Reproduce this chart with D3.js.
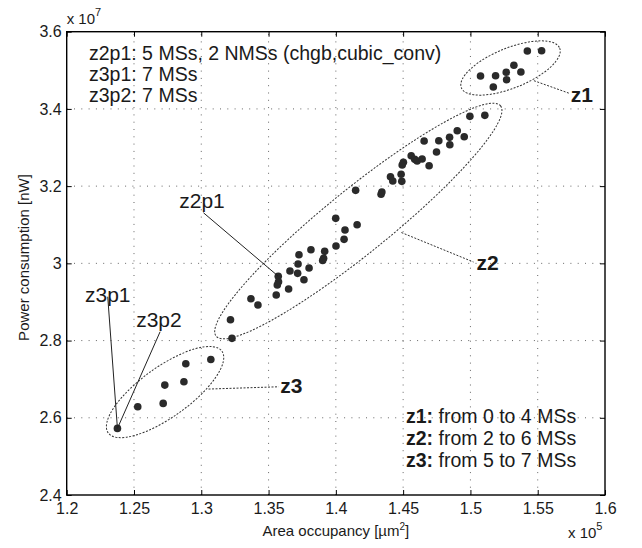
<!DOCTYPE html>
<html>
<head>
<meta charset="utf-8">
<script src="https://cdn.jsdelivr.net/npm/d3@7"></script>
<style>
  body { margin: 0; background: #fff; }
  text { font-family: "Liberation Sans", Arial, Helvetica, sans-serif; fill: #1a1a1a; }
</style>
</head>
<body>
<div id="chart"></div>
<script>
// area values are in units of 1e5 um^2, power in units of 1e7 nW
const z1Area  = [1.5529, 1.5423, 1.5323, 1.5266, 1.5375, 1.5269, 1.5075, 1.5187, 1.5170];
const z1Power = [3.5508, 3.5500, 3.5130, 3.4948, 3.4956, 3.4756, 3.4852, 3.4860, 3.4567];

const z2Area  = [1.5107, 1.4996, 1.4902, 1.4845, 1.4954, 1.4765, 1.4847, 1.4656, 1.4748, 1.4560,
                 1.4586, 1.4604, 1.4641, 1.4693, 1.4502, 1.4493, 1.4485, 1.4490, 1.4406, 1.4423,
                 1.4336, 1.4342, 1.4147, 1.3999, 1.4158, 1.4068, 1.4061, 1.4001, 1.3815, 1.3917,
                 1.3909, 1.3902, 1.3726, 1.3719, 1.3659, 1.3716, 1.3801, 1.3763, 1.3572, 1.3574,
                 1.3565, 1.3649, 1.3557, 1.3369, 1.3421, 1.3217, 1.3228];
const z2Power = [3.3834, 3.3808, 3.3435, 3.3264, 3.3280, 3.3176, 3.3073, 3.3168, 3.2883, 3.2788,
                 3.2694, 3.2650, 3.2702, 3.2528, 3.2617, 3.2547, 3.2306, 3.2124, 3.2244, 3.2132,
                 3.1788, 3.1847, 3.1891, 3.1166, 3.1000, 3.0863, 3.0622, 3.0448, 3.0352, 3.0311,
                 3.0130, 3.0073, 3.0223, 2.9982, 2.9801, 2.9741, 2.9878, 2.9575, 2.9666, 2.9523,
                 2.9438, 2.9334, 2.9179, 2.9083, 2.8920, 2.8539, 2.8057];

const z3Area  = [1.3071, 1.2885, 1.2871, 1.2729, 1.2717, 1.2528, 1.2377];
const z3Power = [2.7508, 2.7399, 2.6933, 2.6847, 2.6373, 2.6285, 2.5725];

const xTicks = [1.2, 1.25, 1.3, 1.35, 1.4, 1.45, 1.5, 1.55, 1.6];
const yTicks = [2.4, 2.6, 2.8, 3.0, 3.2, 3.4, 3.6];

const notes = ['z2p1: 5 MSs, 2 NMSs (chgb,cubic_conv)', 'z3p1: 7 MSs', 'z3p2: 7 MSs'];
const legendKeys = ['z1:', 'z2:', 'z3:'];
const legendText = [' from 0 to 4 MSs', ' from 2 to 6 MSs', ' from 5 to 7 MSs'];

document.addEventListener('DOMContentLoaded', () => drawChart());

function drawChart() {
  const width = 642;
  const height = 548;
  const margin = {top: 31.7, left: 66.7, right: 37, bottom: 53};

  const x = d3.scaleLinear().domain([1.2, 1.6]).range([margin.left, width - margin.right]);
  const y = d3.scaleLinear().domain([2.4, 3.6]).range([height - margin.bottom, margin.top]);

  const svg = d3.select('#chart').append('svg')
    .attr('width', width).attr('height', height);

  // dotted grid
  const grid = svg.append('g')
    .attr('stroke', '#666').attr('stroke-width', 1).attr('stroke-dasharray', '1,6.3');
  grid.selectAll('.vg').data(xTicks.slice(1, -1)).enter()
    .append('line').attr('class', 'vg')
    .attr('x1', d => x(d)).attr('x2', d => x(d))
    .attr('y1', y(2.4)).attr('y2', y(3.6));
  grid.selectAll('.hg').data(yTicks.slice(1, -1)).enter()
    .append('line').attr('class', 'hg')
    .attr('y1', d => y(d)).attr('y2', d => y(d))
    .attr('x1', x(1.2)).attr('x2', x(1.6));

  // axes, ticks point inwards like matlab
  const fmt = d => String(+d.toFixed(2));
  const xAxis = svg.append('g')
    .attr('transform', `translate(0,${y(2.4)})`)
    .call(d3.axisBottom(x).tickValues(xTicks).tickSizeInner(-5).tickSizeOuter(0).tickPadding(8).tickFormat(fmt));
  const yAxis = svg.append('g')
    .attr('transform', `translate(${x(1.2)},0)`)
    .call(d3.axisLeft(y).tickValues(yTicks).tickSizeInner(-5).tickSizeOuter(0).tickPadding(5).tickFormat(fmt));
  const topAxis = svg.append('g')
    .attr('transform', `translate(0,${y(3.6)})`)
    .call(d3.axisTop(x).tickValues(xTicks).tickSizeInner(-5).tickSizeOuter(0).tickFormat(''));
  const rightAxis = svg.append('g')
    .attr('transform', `translate(${x(1.6)},0)`)
    .call(d3.axisRight(y).tickValues(yTicks).tickSizeInner(-5).tickSizeOuter(0).tickFormat(''));
  [xAxis, yAxis, topAxis, rightAxis].forEach(g => {
    g.attr('font-size', 16).attr('font-family', null);
    g.select('.domain').remove();
    g.selectAll('line').attr('stroke', '#000');
  });

  svg.append('rect')
    .attr('x', x(1.2)).attr('y', y(3.6))
    .attr('width', x(1.6) - x(1.2)).attr('height', y(2.4) - y(3.6))
    .attr('fill', 'none').attr('stroke', '#000').attr('stroke-width', 1.4);

  // zone ellipses (centre in data units, radii in px)
  const ellipses = [
    {cx: 1.5298, cy: 3.506, rx: 53, ry: 20, angle: -22},
    {cx: 1.4167, cy: 3.1096, rx: 183, ry: 32, angle: -39},
    {cx: 1.2731, cy: 2.6666, rx: 70, ry: 25, angle: -35.7}
  ];
  svg.selectAll('.zone').data(ellipses).enter()
    .append('ellipse').attr('class', 'zone')
    .attr('transform', d => `translate(${x(d.cx)},${y(d.cy)}) rotate(${d.angle})`)
    .attr('rx', d => d.rx).attr('ry', d => d.ry)
    .attr('fill', 'none').attr('stroke', '#333').attr('stroke-width', 1)
    .attr('stroke-dasharray', '2,1.5');

  // zone labels with dotted leaders
  const zoneLabels = [
    {text: 'z1', x: 1.5745, y: 3.4179, from: [1.5472, 3.4731], to: [1.5739, 3.4399]},
    {text: 'z2', x: 1.5045, y: 2.9827, from: [1.4487, 3.0798], to: [1.5023, 3.0034]},
    {text: 'z3', x: 1.3587, y: 2.664, from: [1.3054, 2.6744], to: [1.3575, 2.6803]}
  ];
  svg.selectAll('.zleader').data(zoneLabels).enter()
    .append('line').attr('class', 'zleader')
    .attr('x1', d => x(d.from[0])).attr('y1', d => y(d.from[1]))
    .attr('x2', d => x(d.to[0])).attr('y2', d => y(d.to[1]))
    .attr('stroke', '#333').attr('stroke-dasharray', '2,1.5');
  svg.selectAll('.zlabel').data(zoneLabels).enter()
    .append('text').attr('class', 'zlabel')
    .attr('x', d => x(d.x)).attr('y', d => y(d.y))
    .attr('font-size', 21).attr('font-weight', 'bold')
    .text(d => d.text);

  // points
  const zones = [[z1Area, z1Power], [z2Area, z2Power], [z3Area, z3Power]];
  const points = zones.flatMap(z => z[0].map((a, i) => ({area: a, power: z[1][i]})));
  svg.selectAll('.dot').data(points).enter()
    .append('circle').attr('class', 'dot')
    .attr('cx', d => x(d.area)).attr('cy', d => y(d.power))
    .attr('r', 3.8).attr('fill', '#2a2a2a');

  // point labels
  const pointLabels = [
    {text: 'z2p1', x: 1.2836, y: 3.1433, from: [1.3016, 3.1311], to: [1.3572, 2.9666]},
    {text: 'z3p1', x: 1.2136, y: 2.9005, from: [1.2305, 2.9135], to: [1.2377, 2.5725]},
    {text: 'z3p2', x: 1.2516, y: 2.8358, from: [1.2694, 2.8228], to: [1.2377, 2.5725]}
  ];
  svg.selectAll('.pleader').data(pointLabels).enter()
    .append('line').attr('class', 'pleader')
    .attr('x1', d => x(d.from[0])).attr('y1', d => y(d.from[1]))
    .attr('x2', d => x(d.to[0])).attr('y2', d => y(d.to[1]))
    .attr('stroke', '#222').attr('stroke-width', 1);
  svg.selectAll('.plabel').data(pointLabels).enter()
    .append('text').attr('class', 'plabel')
    .attr('x', d => x(d.x)).attr('y', d => y(d.y))
    .attr('font-size', 21)
    .text(d => d.text);

  // notes top left
  svg.selectAll('.note').data(notes).enter()
    .append('text').attr('class', 'note')
    .attr('x', 89).attr('y', (d, i) => 59.5 + i * 21)
    .attr('font-size', 19.5)
    .text(d => d);

  // legend bottom right
  const leg = svg.selectAll('.leg').data(legendKeys).enter()
    .append('text').attr('class', 'leg')
    .attr('x', 406).attr('y', (d, i) => 422.5 + i * 22)
    .attr('font-size', 19.5);
  leg.append('tspan').attr('font-weight', 'bold').text(d => d);
  leg.append('tspan').text((d, i) => legendText[i]);

  // exponents
  const e7 = svg.append('text').attr('x', 66.7).attr('y', 24).attr('font-size', 15);
  e7.append('tspan').text('x 10');
  e7.append('tspan').attr('font-size', 11).attr('dy', -8).text('7');
  const e5 = svg.append('text').attr('x', 568).attr('y', 538).attr('font-size', 15);
  e5.append('tspan').text('x 10');
  e5.append('tspan').attr('font-size', 11).attr('dy', -8).text('5');

  // axis labels
  const xl = svg.append('text')
    .attr('x', (x(1.2) + x(1.6)) / 2).attr('y', 536)
    .attr('text-anchor', 'middle').attr('font-size', 15);
  xl.append('tspan').text('Area occupancy [µm');
  xl.append('tspan').attr('font-size', 10).attr('dy', -6).text('2');
  xl.append('tspan').attr('dy', 6).text(']');

  svg.append('text')
    .attr('transform', 'translate(29,257.5) rotate(-90)')
    .attr('text-anchor', 'middle').attr('font-size', 15)
    .text('Power consumption [nW]');
}
</script>
</body>
</html>
